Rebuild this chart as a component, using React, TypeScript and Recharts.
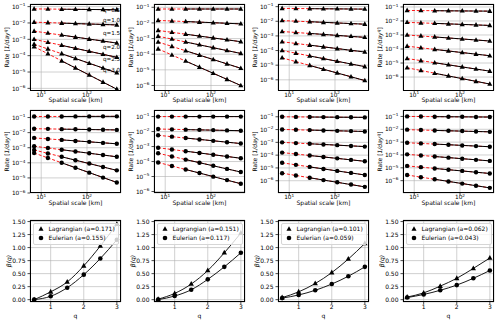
import React from 'react';
import { LineChart, Line, XAxis, YAxis, CartesianGrid, ReferenceDot, Legend } from 'recharts';

const FONT = 'DejaVu Sans, sans-serif';

// Spatial scales [km]
const scales = [7, 14, 28, 56, 112, 224, 448];
const fitXs = [7, 28, 448];
const qLabels = ['q=0.5', 'q=1.0', 'q=1.5', 'q=2.0', 'q=2.5', 'q=3.0'];
const qLabelLog = [-1.2, -1.81, -2.62, -3.46, -4.19, -4.9];

// log10(rate), rows q=0.5..3.0, cols = scales
const lag1 = [
  [-1.14, -1.15, -1.16, -1.165, -1.17, -1.18, -1.19],
  [-1.95, -1.98, -2.01, -2.035, -2.06, -2.09, -2.12],
  [-2.5, -2.62, -2.74, -2.87, -2.99, -3.11, -3.23],
  [-3.0, -3.18, -3.37, -3.55, -3.73, -3.92, -4.1],
  [-3.3, -3.59, -3.88, -4.18, -4.47, -4.76, -5.05],
  [-3.45, -3.88, -4.32, -4.75, -5.18, -5.62, -6.05],
];
const lag2 = [
  [-1.11, -1.11, -1.11, -1.11, -1.11, -1.11, -1.11],
  [-1.84, -1.88, -1.91, -1.95, -1.99, -2.02, -2.06],
  [-2.48, -2.6, -2.72, -2.84, -2.96, -3.08, -3.2],
  [-2.85, -3.03, -3.22, -3.4, -3.58, -3.77, -3.95],
  [-3.22, -3.5, -3.78, -4.06, -4.34, -4.62, -4.9],
  [-3.66, -4.05, -4.44, -4.83, -5.22, -5.61, -6.0],
];
const lag3 = [
  [-1.12, -1.13, -1.14, -1.145, -1.15, -1.16, -1.17],
  [-1.95, -1.99, -2.03, -2.08, -2.12, -2.16, -2.2],
  [-2.7, -2.77, -2.83, -2.9, -2.97, -3.03, -3.1],
  [-3.4, -3.52, -3.63, -3.75, -3.87, -3.98, -4.1],
  [-4.0, -4.18, -4.37, -4.55, -4.73, -4.92, -5.1],
  [-4.5, -4.76, -5.02, -5.28, -5.53, -5.79, -6.05],
];
const lag4 = [
  [-1.25, -1.26, -1.27, -1.275, -1.28, -1.29, -1.3],
  [-2.1, -2.14, -2.17, -2.21, -2.25, -2.28, -2.32],
  [-3.0, -3.07, -3.14, -3.22, -3.29, -3.36, -3.43],
  [-3.8, -3.91, -4.03, -4.14, -4.25, -4.37, -4.48],
  [-4.68, -4.83, -4.98, -5.13, -5.28, -5.43, -5.58],
  [-5.34, -5.53, -5.73, -5.92, -6.11, -6.31, -6.5],
];
const eul1 = [
  [-0.93, -0.93, -0.93, -0.925, -0.925, -0.92, -0.92],
  [-1.74, -1.75, -1.77, -1.78, -1.79, -1.81, -1.82],
  [-2.35, -2.42, -2.48, -2.55, -2.61, -2.68, -2.74],
  [-2.9, -3.02, -3.13, -3.25, -3.37, -3.48, -3.6],
  [-3.15, -3.38, -3.6, -3.83, -4.05, -4.28, -4.5],
  [-3.35, -3.68, -4.0, -4.33, -4.65, -4.98, -5.3],
];
const eul2 = [
  [-1.0, -1.0, -1.0, -1.0, -1.0, -1.0, -1.0],
  [-1.83, -1.85, -1.87, -1.885, -1.9, -1.92, -1.94],
  [-2.25, -2.34, -2.43, -2.53, -2.62, -2.71, -2.8],
  [-3.08, -3.2, -3.31, -3.43, -3.55, -3.66, -3.78],
  [-3.45, -3.66, -3.87, -4.08, -4.28, -4.49, -4.7],
  [-4.06, -4.3, -4.53, -4.77, -5.01, -5.24, -5.48],
];
const eul3 = [
  [-1.0, -1.01, -1.02, -1.025, -1.03, -1.04, -1.05],
  [-1.99, -2.02, -2.04, -2.07, -2.1, -2.12, -2.15],
  [-3.0, -3.06, -3.11, -3.17, -3.22, -3.28, -3.33],
  [-3.8, -3.91, -4.03, -4.14, -4.25, -4.37, -4.48],
  [-4.6, -4.76, -4.92, -5.08, -5.23, -5.39, -5.55],
  [-5.41, -5.59, -5.77, -5.95, -6.12, -6.3, -6.48],
];
const eul4 = [
  [-1.0, -1.01, -1.02, -1.025, -1.03, -1.04, -1.05],
  [-2.03, -2.06, -2.09, -2.12, -2.14, -2.17, -2.2],
  [-3.05, -3.1, -3.15, -3.21, -3.26, -3.31, -3.36],
  [-3.95, -4.04, -4.12, -4.21, -4.29, -4.38, -4.46],
  [-4.85, -4.95, -5.05, -5.15, -5.24, -5.34, -5.44],
  [-5.56, -5.73, -5.89, -6.06, -6.23, -6.39, -6.56],
];

// fit lines, log10 values at x = 7, 28, 448
const lagFit1 = [[-1.14, -1.16, -1.19], [-1.95, -2.01, -2.12], [-2.5, -2.74, -3.23], [-3.0, -3.37, -4.1], [-3.3, -3.88, -5.05], [-3.45, -4.32, -6.05]];
const lagFit2 = [[-1.11, -1.11, -1.11], [-1.84, -1.91, -2.06], [-2.48, -2.72, -3.2], [-2.85, -3.22, -3.95], [-3.22, -3.78, -4.9], [-3.66, -4.44, -6.0]];
const lagFit3 = [[-1.12, -1.14, -1.17], [-1.95, -2.03, -2.2], [-2.7, -2.83, -3.1], [-3.4, -3.63, -4.1], [-4.0, -4.37, -5.1], [-4.5, -5.02, -6.05]];
const lagFit4 = [[-1.25, -1.27, -1.3], [-2.1, -2.17, -2.32], [-3.0, -3.14, -3.43], [-3.8, -4.03, -4.48], [-4.68, -4.98, -5.58], [-5.34, -5.73, -6.5]];
const eulFit1 = [[-0.93, -0.93, -0.92], [-1.74, -1.77, -1.82], [-2.35, -2.48, -2.74], [-2.9, -3.13, -3.6], [-3.15, -3.6, -4.5], [-3.35, -4.0, -5.3]];
const eulFit2 = [[-1.0, -1.0, -1.0], [-1.83, -1.87, -1.94], [-2.25, -2.43, -2.8], [-3.08, -3.31, -3.78], [-3.45, -3.87, -4.7], [-4.06, -4.53, -5.48]];
const eulFit3 = [[-1.0, -1.02, -1.05], [-1.99, -2.04, -2.15], [-3.0, -3.11, -3.33], [-3.8, -4.03, -4.48], [-4.6, -4.92, -5.55], [-5.41, -5.77, -6.48]];
const eulFit4 = [[-1.0, -1.02, -1.05], [-2.03, -2.09, -2.2], [-3.05, -3.15, -3.36], [-3.95, -4.12, -4.46], [-4.85, -5.05, -5.44], [-5.56, -5.89, -6.56]];

// y-axis limits (log10)
const lagYLim = [[-6.13, -0.84], [-6.32, -0.79], [-6.73, -0.82], [-6.96, -0.79]];
const eulYLim = [[-6.0, -0.5], [-6.1, -0.56], [-6.96, -0.47], [-6.96, -0.5]];

// beta(q)
const qs = [0.5, 1, 1.5, 2, 2.5, 3];
const lagBeta = [
  [0.0, 0.15, 0.34, 0.65, 1.03, 1.45],
  [0.01, 0.12, 0.3, 0.56, 0.9, 1.28],
  [0.04, 0.15, 0.31, 0.52, 0.78, 1.08],
  [0.05, 0.13, 0.26, 0.41, 0.6, 0.8],
];
const eulBeta = [
  [0.0, 0.065, 0.23, 0.48, 0.79, 1.15],
  [0.0, 0.07, 0.19, 0.39, 0.63, 0.9],
  [0.03, 0.09, 0.18, 0.3, 0.45, 0.63],
  [0.04, 0.1, 0.18, 0.28, 0.41, 0.56],
];
const lagA = ['0.171', '0.151', '0.101', '0.062'];
const eulA = ['0.155', '0.117', '0.059', '0.043'];

// layout
const colLeft = [30, 154, 278, 403];
const PW = 91;
const ROW1 = { top: 4, h: 86.5 };
const ROW2 = { top: 110, h: 83 };
const ROW3 = { top: 220, h: 82 };
const YW = 30;
const MT = 3;

const fmtExp = (e: number) => (e < 0 ? '\u2212' + Math.abs(e) : String(e));

const LogTickX = (p: any) => {
  const e = Math.round(Math.log10(p.payload.value));
  return (
    <text x={p.x} y={p.y + 1.6} textAnchor="middle" fontSize={5.8} fontFamily={FONT} fill="#000">
      10<tspan dy={-2.5} fontSize={4.2}>{fmtExp(e)}</tspan>
    </text>
  );
};
const LogTickY = (p: any) => {
  const e = Math.round(Math.log10(p.payload.value));
  return (
    <text x={p.x} y={p.y + 2.2} textAnchor="end" fontSize={5.8} fontFamily={FONT} fill="#000">
      10<tspan dy={-2.5} fontSize={4.2}>{fmtExp(e)}</tspan>
    </text>
  );
};
const LinTickX = (p: any) => (
  <text x={p.x} y={p.y + 2.2} textAnchor="middle" fontSize={6} fontFamily={FONT} fill="#000">
    {String(p.payload.value)}
  </text>
);
const LinTickY = (p: any) => (
  <text x={p.x} y={p.y + 2.2} textAnchor="end" fontSize={6} fontFamily={FONT} fill="#000">
    {Number(p.payload.value).toFixed(2)}
  </text>
);

// axis title placed below the plot area (chart-local coordinates)
const XLabel = (text: string, y: number) => () => (
  <text x={YW + PW / 2} y={y} textAnchor="middle" fontSize={6} fontFamily={FONT} fill="#000">
    {text}
  </text>
);
const RateLabel = (h: number) => () => {
  const cx = 9;
  const cy = MT + h / 2;
  return (
    <text x={cx} y={cy} transform={`rotate(-90 ${cx} ${cy})`} textAnchor="middle" fontSize={6} fontFamily={FONT} fill="#000">
      Rate [<tspan fontStyle="italic">1/day</tspan><tspan dy={-2.4} fontSize={4.3} fontStyle="italic">q</tspan><tspan dy={2.4}>]</tspan>
    </text>
  );
};
const BetaLabel = (h: number) => () => {
  const cx = 10.5;
  const cy = MT + h / 2;
  return (
    <text x={cx} y={cy} transform={`rotate(-90 ${cx} ${cy})`} textAnchor="middle" fontSize={6} fontFamily={FONT} fill="#000" fontStyle="italic">
      β(q)
    </text>
  );
};

const triPath = (cx: number, cy: number, s: number) =>
  `M${cx},${cy - s * 0.62}L${cx + s * 0.55},${cy + s * 0.38}L${cx - s * 0.55},${cy + s * 0.38}Z`;

const TriDot = (s: number) => (p: any) =>
  p.cx == null ? <g key={p.index} /> : <path key={p.index} d={triPath(p.cx, p.cy, s)} fill="#000" stroke="none" />;
const CircDot = (r: number) => (p: any) =>
  p.cx == null ? <g key={p.index} /> : <circle key={p.index} cx={p.cx} cy={p.cy} r={r} fill="#000" stroke="none" />;

const Frame = ({ left, top, w, h }: any) => (
  <div
    style={{
      position: 'absolute',
      left: left - 0.4,
      top: top - 0.4,
      width: w + 0.8,
      height: h + 0.8,
      border: '0.8px solid #000',
      boxSizing: 'border-box',
      pointerEvents: 'none',
    }}
  />
);

function LogPanel({ left, row, series, fits, ylim, circle, showQ }: any) {
  const W = YW + PW + 4;
  const H = MT + row.h + 14;
  const yTicks: number[] = [];
  for (let e = Math.ceil(ylim[0]); e <= Math.floor(ylim[1]); e++) yTicks.push(Math.pow(10, e));
  const dot = circle ? CircDot(2.2) : TriDot(4.6);
  return (
    <>
      <div style={{ position: 'absolute', left: left - YW, top: row.top - MT }}>
        <LineChart width={W} height={H} margin={{ top: MT, right: 4, bottom: 0, left: 0 }}>
          <CartesianGrid stroke="#b0b0b0" strokeWidth={0.6} />
          <XAxis
            dataKey="x"
            type="number"
            scale="log"
            domain={[Math.pow(10, 0.755), Math.pow(10, 2.743)]}
            allowDataOverflow
            ticks={[10, 100]}
            interval={0}
            tick={LogTickX}
            tickSize={2.5}
            tickLine={{ stroke: '#000', strokeWidth: 0.7 }}
            axisLine={false}
            height={14}
            label={XLabel('Spatial scale [km]', MT + row.h + 11.8)}
          />
          <YAxis
            type="number"
            scale="log"
            domain={[Math.pow(10, ylim[0]), Math.pow(10, ylim[1])]}
            allowDataOverflow
            ticks={yTicks}
            interval={0}
            tick={LogTickY}
            tickSize={2.5}
            tickLine={{ stroke: '#000', strokeWidth: 0.7 }}
            axisLine={false}
            width={YW}
            label={RateLabel(row.h)}
          />
          {fits.map((f: number[], i: number) => (
            <Line
              key={'r' + i}
              data={[{ x: fitXs[0], y: Math.pow(10, f[0]) }, { x: fitXs[2], y: Math.pow(10, f[2]) }]}
              dataKey="y"
              stroke="#ff0000"
              strokeWidth={0.9}
              strokeDasharray="3 1.8"
              dot={false}
              activeDot={false}
              isAnimationActive={false}
            />
          ))}
          {fits.map((f: number[], i: number) => (
            <Line
              key={'b' + i}
              data={[{ x: fitXs[1], y: Math.pow(10, f[1]) }, { x: fitXs[2], y: Math.pow(10, f[2]) }]}
              dataKey="y"
              stroke="#000"
              strokeWidth={1}
              dot={false}
              activeDot={false}
              isAnimationActive={false}
            />
          ))}
          {series.map((s: number[], i: number) => (
            <Line
              key={'m' + i}
              data={scales.map((x, k) => ({ x, y: Math.pow(10, s[k]) }))}
              dataKey="y"
              stroke="none"
              dot={dot}
              activeDot={false}
              isAnimationActive={false}
            />
          ))}
          {showQ &&
            qLabels.map((t, i) => (
              <ReferenceDot
                key={'q' + i}
                x={530}
                y={Math.pow(10, qLabelLog[i])}
                r={0}
                fill="none"
                stroke="none"
                ifOverflow="visible"
                label={(p: any) => (
                  <text x={p.viewBox.x} y={p.viewBox.y + 2} textAnchor="end" fontSize={5.6} fontFamily={FONT} fill="#000">
                    {t}
                  </text>
                )}
              />
            ))}
        </LineChart>
      </div>
      <Frame left={left} top={row.top} w={PW} h={row.h} />
    </>
  );
}

const LegendBox = ({ la, ea }: any) => (
  <div
    style={{
      border: '0.8px solid #d6d6d6',
      borderRadius: 2,
      background: 'rgba(255,255,255,0.8)',
      padding: '1.5px 3px 1.5px 2px',
      fontSize: 6,
      fontFamily: FONT,
      lineHeight: '8.5px',
      color: '#000',
      whiteSpace: 'nowrap',
      textAlign: 'left',
    }}
  >
    <div style={{ display: 'flex', alignItems: 'center' }}>
      <svg width={11} height={8}>
        <path d={triPath(5, 4, 4.6)} fill="#000" />
      </svg>
      <span style={{ marginLeft: 2 }}>Lagrangian (a={la})</span>
    </div>
    <div style={{ display: 'flex', alignItems: 'center' }}>
      <svg width={11} height={8}>
        <circle cx={5} cy={4} r={2.3} fill="#000" />
      </svg>
      <span style={{ marginLeft: 2 }}>Eulerian (a={ea})</span>
    </div>
  </div>
);

function BetaPanel({ left, idx }: any) {
  const row = ROW3;
  const W = YW + PW + 4;
  const H = MT + row.h + 18;
  const lag = qs.map((q, k) => ({ x: q, y: lagBeta[idx][k] }));
  const eul = qs.map((q, k) => ({ x: q, y: eulBeta[idx][k] }));
  return (
    <>
      <div style={{ position: 'absolute', left: left - YW, top: row.top - MT }}>
        <LineChart width={W} height={H} margin={{ top: MT, right: 4, bottom: 0, left: 0 }}>
          <CartesianGrid stroke="#b0b0b0" strokeWidth={0.6} />
          <XAxis
            dataKey="x"
            type="number"
            domain={[0.375, 3.125]}
            allowDataOverflow
            ticks={[1, 2, 3]}
            interval={0}
            tick={LinTickX}
            tickSize={2.5}
            tickLine={{ stroke: '#000', strokeWidth: 0.7 }}
            axisLine={false}
            height={18}
            label={XLabel('q', MT + row.h + 16)}
          />
          <YAxis
            type="number"
            domain={[-0.045, 1.53]}
            allowDataOverflow
            ticks={[0, 0.25, 0.5, 0.75, 1, 1.25, 1.5]}
            interval={0}
            tick={LinTickY}
            tickSize={2.5}
            tickLine={{ stroke: '#000', strokeWidth: 0.7 }}
            axisLine={false}
            width={YW}
            label={BetaLabel(row.h)}
          />
          <Line data={lag} dataKey="y" type="monotone" stroke="#000" strokeWidth={0.9} dot={TriDot(4.8)} activeDot={false} isAnimationActive={false} />
          <Line data={eul} dataKey="y" type="monotone" stroke="#000" strokeWidth={0.9} dot={CircDot(2.3)} activeDot={false} isAnimationActive={false} />
          <Legend
            layout="horizontal"
            verticalAlign="middle"
            align="center"
            wrapperStyle={{ left: YW + 2.5, top: MT + 2.5, width: 'auto', height: 'auto' }}
            content={() => <LegendBox la={lagA[idx]} ea={eulA[idx]} />}
          />
        </LineChart>
      </div>
      <Frame left={left} top={row.top} w={PW} h={row.h} />
    </>
  );
}

const lagSets = [lag1, lag2, lag3, lag4];
const eulSets = [eul1, eul2, eul3, eul4];
const lagFits = [lagFit1, lagFit2, lagFit3, lagFit4];
const eulFits = [eulFit1, eulFit2, eulFit3, eulFit4];

export default function App() {
  return (
    <div style={{ position: 'absolute', left: 0, top: 0, width: 500, height: 323, background: '#fff', overflow: 'hidden' }}>
      {colLeft.map((l, i) => (
        <LogPanel key={'l' + i} left={l} row={ROW1} series={lagSets[i]} fits={lagFits[i]} ylim={lagYLim[i]} circle={false} showQ={i === 0} />
      ))}
      {colLeft.map((l, i) => (
        <LogPanel key={'e' + i} left={l} row={ROW2} series={eulSets[i]} fits={eulFits[i]} ylim={eulYLim[i]} circle={true} showQ={false} />
      ))}
      {colLeft.map((l, i) => (
        <BetaPanel key={'b' + i} left={l} idx={i} />
      ))}
    </div>
  );
}
